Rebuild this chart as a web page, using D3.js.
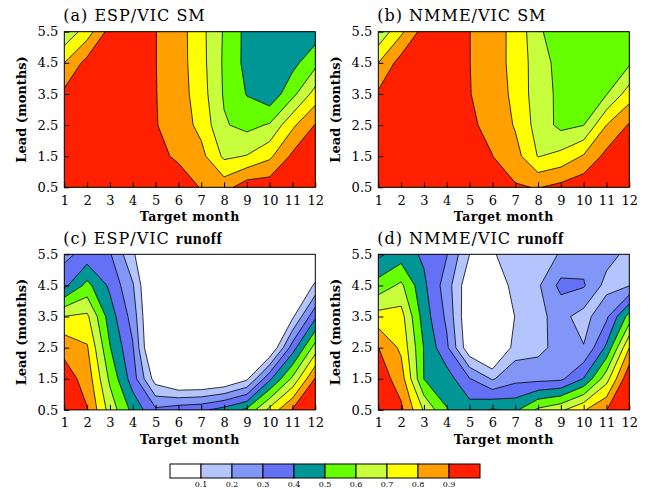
<!DOCTYPE html>
<html>
<head>
<meta charset="utf-8">
<script src="https://d3js.org/d3.v7.min.js"></script>
<style>
  body { margin: 0; background: #fff; }
  text { font-family: "DejaVu Serif", serif; fill: #000; }
</style>
</head>
<body>
<div class="container"></div>
<script>
var months = [1, 2, 3, 4, 5, 6, 7, 8, 9, 10, 11, 12];
var leads = [0.5, 1.5, 2.5, 3.5, 4.5, 5.5];
var levels = [0.1, 0.2, 0.3, 0.4, 0.5, 0.6, 0.7, 0.8, 0.9];
var levelLabels = ["0.1", "0.2", "0.3", "0.4", "0.5", "0.6", "0.7", "0.8", "0.9"];
var bandColors = ["#ffffff", "#b4c5fe", "#8296f8", "#6470f6", "#009696",
                  "#66ff00", "#c8ff3c", "#ffff00", "#ffa000", "#ff2000"];

// rows = lead 0.5 ... 5.5, columns = target month 1 ... 12
var espSM = [
    [0.95, 0.96, 0.97, 0.97, 0.96, 0.95, 0.895, 0.86, 0.96, 0.96, 0.98, 0.99],
    [0.95, 0.96, 0.97, 0.96, 0.925, 0.885, 0.83, 0.68, 0.705, 0.78, 0.92, 0.97],
    [0.95, 0.96, 0.96, 0.95, 0.905, 0.855, 0.77, 0.61, 0.57, 0.61, 0.78, 0.905],
    [0.923, 0.95, 0.96, 0.95, 0.903, 0.85, 0.745, 0.59, 0.495, 0.43, 0.57, 0.74],
    [0.80, 0.935, 0.96, 0.95, 0.902, 0.845, 0.735, 0.585, 0.47, 0.40, 0.47, 0.57],
    [0.62, 0.75, 0.94, 0.95, 0.902, 0.845, 0.73, 0.59, 0.47, 0.40, 0.42, 0.45]
];
var nmmeSM = [
    [0.95, 0.96, 0.97, 0.97, 0.96, 0.94, 0.91, 0.895, 0.93, 0.97, 0.98, 0.99],
    [0.95, 0.96, 0.97, 0.96, 0.93, 0.901, 0.84, 0.695, 0.73, 0.81, 0.93, 0.97],
    [0.95, 0.96, 0.96, 0.95, 0.91, 0.883, 0.79, 0.66, 0.572, 0.598, 0.80, 0.91],
    [0.915, 0.95, 0.96, 0.95, 0.905, 0.834, 0.785, 0.64, 0.58, 0.55, 0.595, 0.75],
    [0.80, 0.944, 0.96, 0.95, 0.902, 0.83, 0.78, 0.64, 0.57, 0.54, 0.56, 0.585],
    [0.62, 0.78, 0.944, 0.95, 0.902, 0.83, 0.78, 0.62, 0.533, 0.53, 0.54, 0.55]
];
var espRunoff = [
    [0.97, 0.905, 0.66, 0.47, 0.32, 0.36, 0.38, 0.44, 0.52, 0.73, 0.91, 0.99],
    [0.95, 0.86, 0.58, 0.35, 0.05, -0.05, -0.05, -0.02, 0.08, 0.38, 0.62, 0.908],
    [0.87, 0.81, 0.505, 0.31, -0.1, -0.1, -0.1, -0.1, -0.1, -0.02, 0.35, 0.645],
    [0.702, 0.72, 0.45, 0.26, -0.1, -0.1, -0.1, -0.1, -0.1, -0.1, 0.08, 0.38],
    [0.375, 0.53, 0.38, 0.21, -0.1, -0.1, -0.1, -0.1, -0.1, -0.1, -0.05, 0.118],
    [0.27, 0.34, 0.31, 0.12, -0.1, -0.1, -0.1, -0.1, -0.1, -0.1, -0.05, -0.05]
];
var nmmeRunoff = [
    [0.98, 0.92, 0.69, 0.505, 0.45, 0.51, 0.48, 0.62, 0.68, 0.79, 0.898, 1.0],
    [0.96, 0.85, 0.498, 0.45, 0.305, 0.19, 0.27, 0.27, 0.28, 0.405, 0.66, 0.985],
    [0.902, 0.78, 0.495, 0.32, 0.02, -0.1, 0.15, 0.17, 0.24, 0.205, 0.42, 0.80],
    [0.74, 0.74, 0.45, 0.28, 0.0, -0.1, 0.105, 0.18, 0.23, 0.16, 0.28, 0.54],
    [0.54, 0.62, 0.42, 0.25, 0.02, -0.1, 0.19, 0.185, 0.33, 0.31, 0.165, 0.195],
    [0.38, 0.45, 0.383, 0.305, 0.1005, 0.09, 0.15, 0.17, 0.205, 0.26, 0.24, 0.17]
];

var plotW = 251;
var plotH = 155.6;

var panels = [
    { id: "a", label: "(a) ESP/VIC SM", bold: "", data: espSM, left: 64.3, top: 31.7 },
    { id: "b", label: "(b) NMME/VIC SM", bold: "", data: nmmeSM, left: 378.3, top: 31.7 },
    { id: "c", label: "(c) ESP/VIC ", bold: "runoff", data: espRunoff, left: 64.3, top: 254.3 },
    { id: "d", label: "(d) NMME/VIC ", bold: "runoff", data: nmmeRunoff, left: 378.3, top: 254.3 }
];

var svg = d3.select('.container')
    .append('svg')
    .attr('width', 650)
    .attr('height', 488)
    .style('background', '#fff');

var defs = svg.append('defs');

panels.forEach(function (p) { drawPanel(p); });
drawColorbar();

function drawPanel(p) {
    var x = d3.scaleLinear().domain([1, 12]).range([0, plotW]);
    var y = d3.scaleLinear().domain([0.5, 5.5]).range([plotH, 0]);

    var values = d3.merge(p.data);
    var contours = d3.contours()
        .size([months.length, leads.length])
        .thresholds(levels)(values);

    // grid cell i is centred at i + 0.5 in contour space
    var proj = d3.geoTransform({
        point: function (cx, cy) { this.stream.point(x(cx + 0.5), y(cy)); }
    });
    var path = d3.geoPath(proj);

    defs.append('clipPath').attr('id', 'clip-' + p.id)
        .append('rect').attr('width', plotW).attr('height', plotH);

    var g = svg.append('g')
        .attr('transform', 'translate(' + p.left + ',' + p.top + ')');

    var body = g.append('g').attr('clip-path', 'url(#clip-' + p.id + ')');
    body.append('rect').attr('width', plotW).attr('height', plotH).attr('fill', bandColors[0]);

    body.selectAll('path.band')
        .data(contours)
        .enter().append('path')
        .attr('class', 'band')
        .attr('d', path)
        .attr('fill', function (d, i) { return bandColors[i + 1]; });

    body.selectAll('path.iso')
        .data(contours)
        .enter().append('path')
        .attr('class', 'iso')
        .attr('d', path)
        .attr('fill', 'none')
        .attr('stroke', '#000')
        .attr('stroke-width', 0.8);

    // inward ticks, NCL style
    var xAxis = g.append('g')
        .attr('transform', 'translate(0,' + plotH + ')')
        .call(d3.axisBottom(x).tickValues(months).tickFormat(d3.format('d'))
            .tickSizeInner(-5).tickSizeOuter(0).tickPadding(8));
    var yAxis = g.append('g')
        .call(d3.axisLeft(y).tickValues(leads).tickFormat(d3.format('.1f'))
            .tickSizeInner(-5).tickSizeOuter(0).tickPadding(6));
    [xAxis, yAxis].forEach(function (ax) {
        ax.select('.domain').remove();
        ax.selectAll('line').attr('stroke', '#000').attr('stroke-width', 1);
        ax.selectAll('text')
            .attr('font-family', '"DejaVu Serif", serif')
            .attr('font-size', '13px')
            .attr('fill', '#000');
    });

    g.append('rect')
        .attr('width', plotW).attr('height', plotH)
        .attr('fill', 'none').attr('stroke', '#000').attr('stroke-width', 1);

    var title = g.append('text')
        .attr('x', -1).attr('y', -10.5)
        .attr('font-size', '16px')
        .attr('letter-spacing', '1px');
    title.append('tspan').text(p.label);
    if (p.bold) {
        title.append('tspan')
            .attr('font-family', '"Liberation Serif", serif')
            .attr('font-weight', 'bold')
            .attr('letter-spacing', '0.5px')
            .text(p.bold);
    }

    g.append('text')
        .attr('x', plotW / 2).attr('y', plotH + 34)
        .attr('text-anchor', 'middle')
        .attr('font-size', '12.5px')
        .attr('font-weight', 'bold')
        .attr('letter-spacing', '0.4px')
        .text('Target month');

    g.append('text')
        .attr('transform', 'translate(-38.5,' + (plotH / 2) + ') rotate(-90)')
        .attr('text-anchor', 'middle')
        .attr('font-size', '13px')
        .attr('font-weight', 'bold')
        .text('Lead (months)');
}

function drawColorbar() {
    var cb = d3.scaleLinear().domain([0, bandColors.length]).range([170, 480]);
    var g = svg.append('g');
    g.selectAll('rect')
        .data(bandColors)
        .enter().append('rect')
        .attr('x', function (d, i) { return cb(i); })
        .attr('y', 464)
        .attr('width', function (d, i) { return cb(i + 1) - cb(i); })
        .attr('height', 14)
        .attr('fill', function (d) { return d; })
        .attr('stroke', '#000')
        .attr('stroke-width', 1);
    g.selectAll('text')
        .data(levelLabels)
        .enter().append('text')
        .attr('x', function (d, i) { return cb(i + 1); })
        .attr('y', 487)
        .attr('text-anchor', 'middle')
        .attr('font-size', '8px')
        .text(function (d) { return d; });
}
</script>
</body>
</html>
